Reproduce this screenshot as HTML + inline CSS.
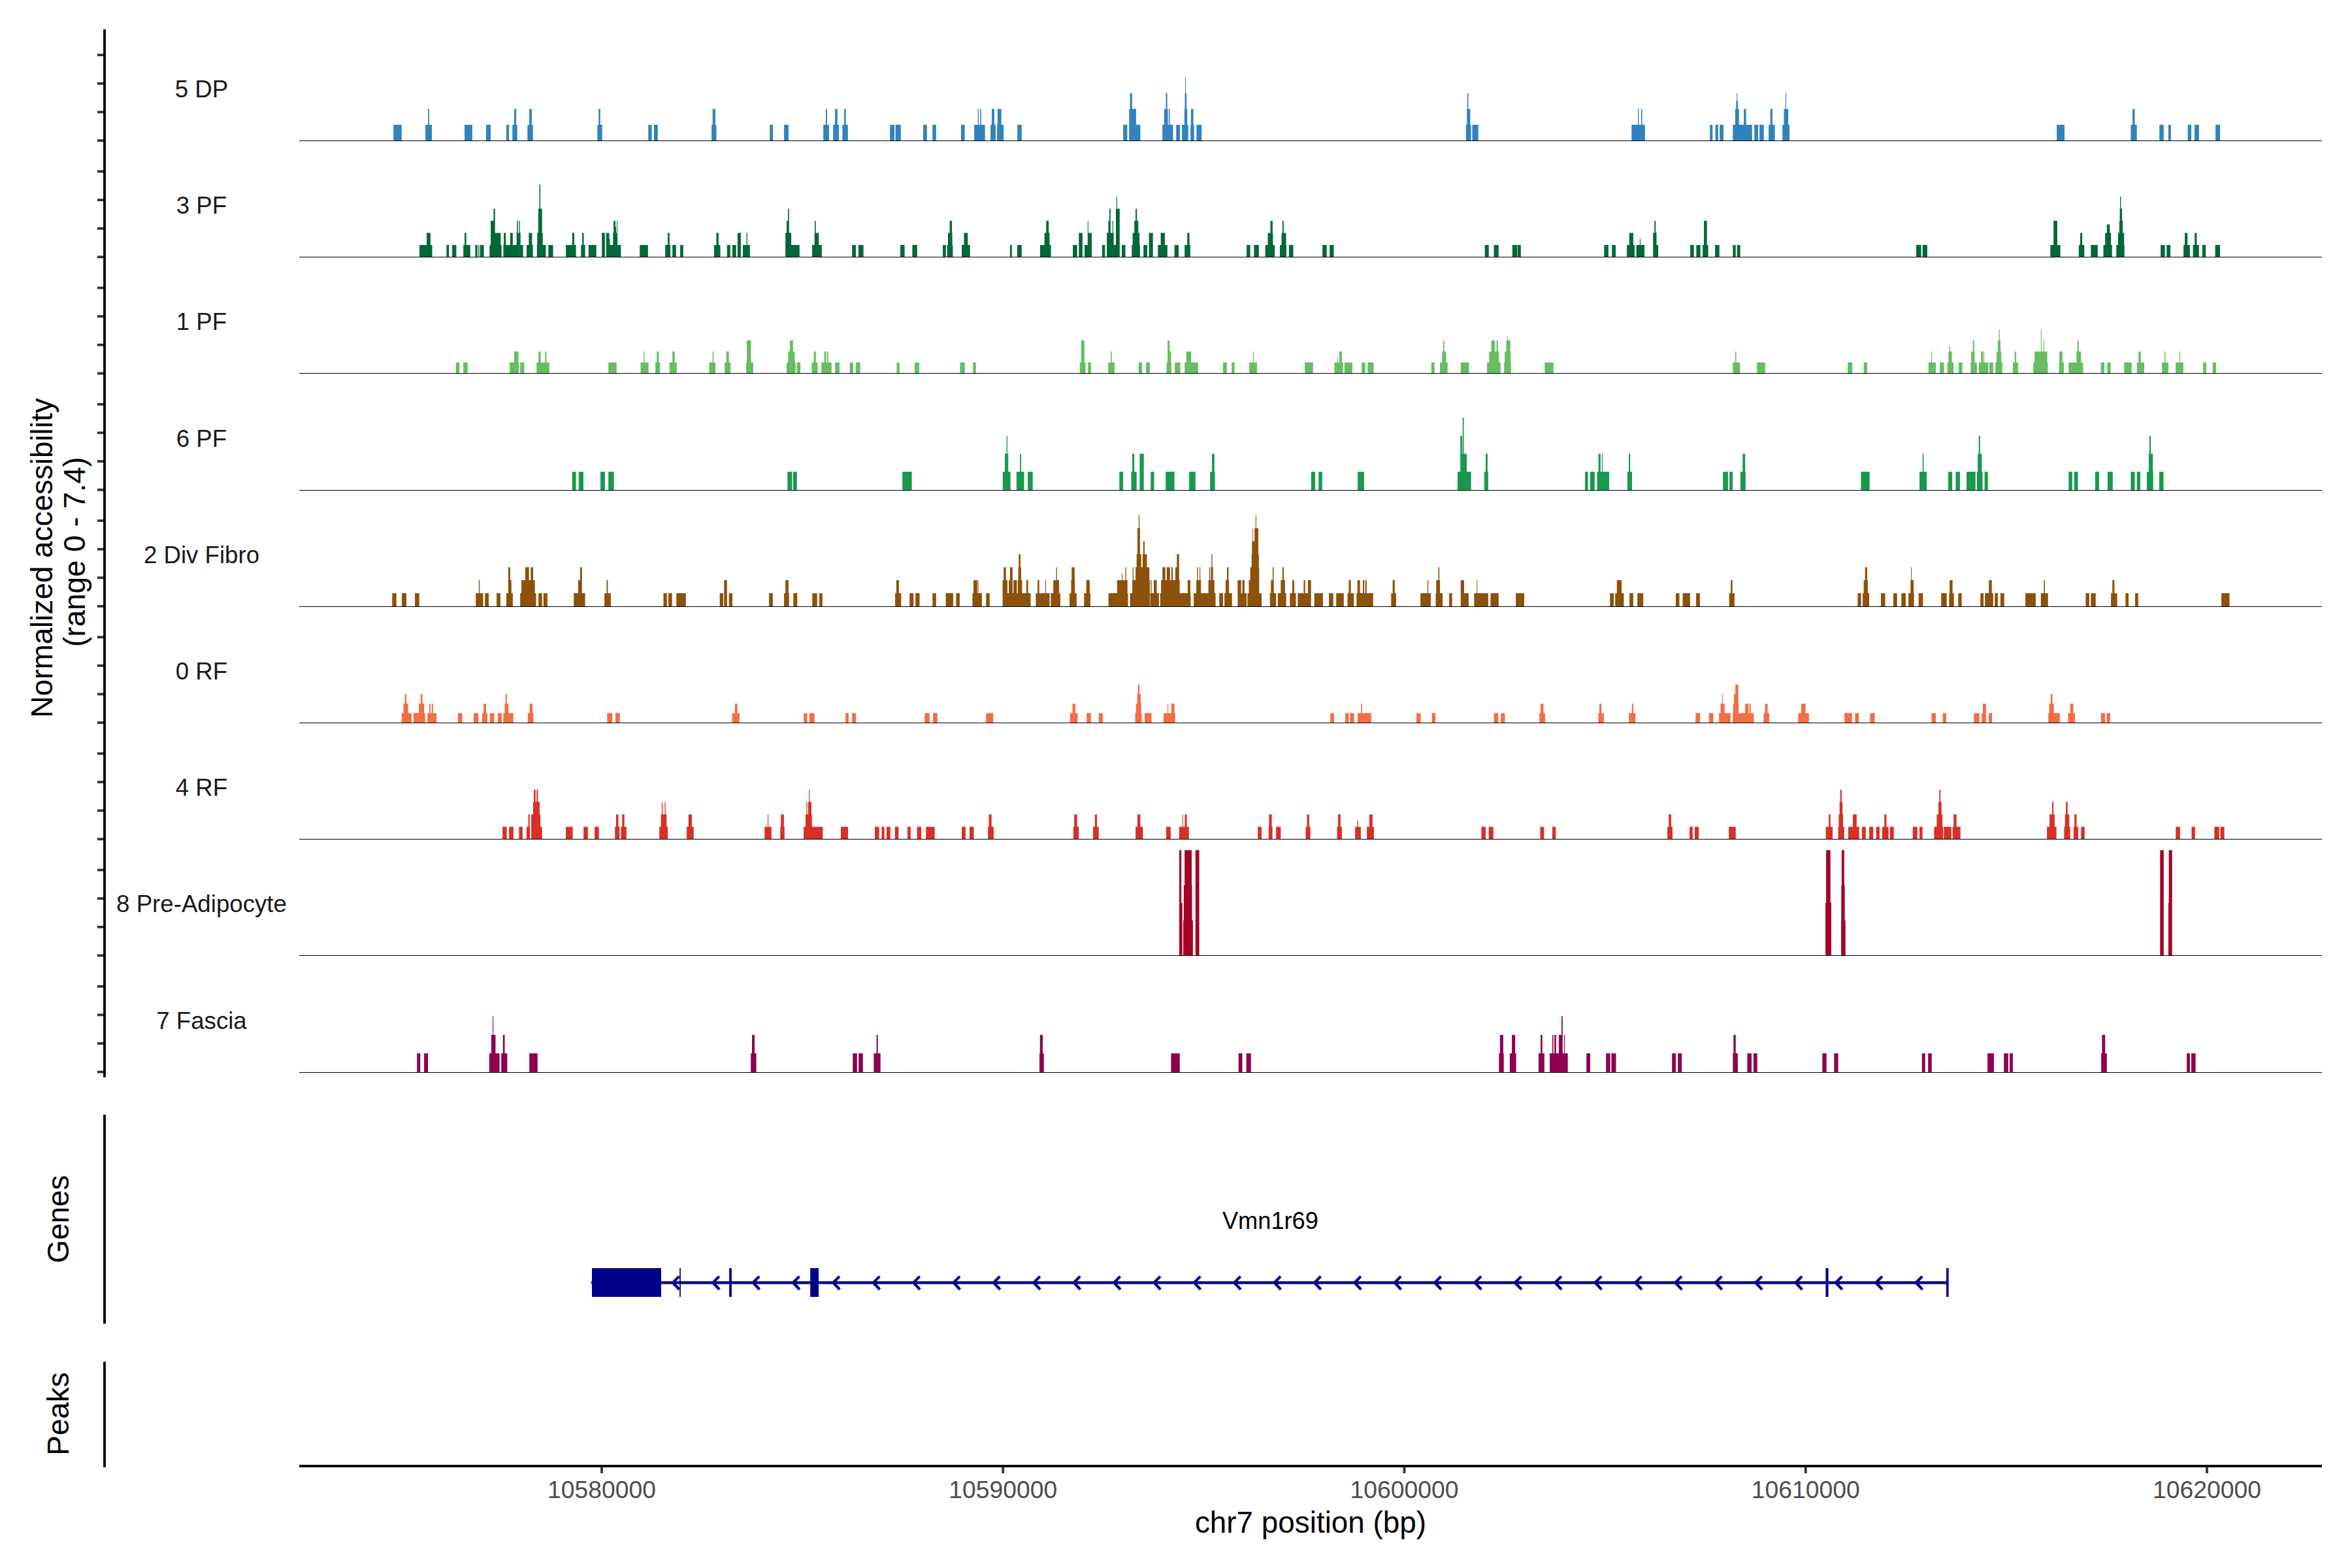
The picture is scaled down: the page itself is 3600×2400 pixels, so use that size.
<!DOCTYPE html><html><head><meta charset="utf-8"><style>html,body{margin:0;padding:0;background:#fff;}svg{display:block;}text{font-family:"Liberation Sans",Arial,sans-serif;}</style></head><body>
<svg width="3600" height="2400" viewBox="0 0 3600 2400">
<rect width="3600" height="2400" fill="#fff"/>
<path fill="#3182BD" d="M602.2 215.6V190.9H614.8V215.6ZM651.2 215.6V190.9H661.0V215.6ZM655.2 215.6V166.7H657.0V215.6ZM711.1 215.6V190.9H722.9V215.6ZM744.0 215.6V190.9H751.1V215.6ZM775.1 215.6V190.9H779.1V215.6ZM784.3 215.6V190.9H791.7V215.6ZM787.0 215.6V166.7H790.1V215.6ZM807.3 215.6V190.9H815.7V215.6ZM810.2 215.6V166.7H813.9V215.6ZM914.3 215.6V190.9H921.7V215.6ZM916.2 215.6V166.7H918.8V215.6ZM992.3 215.6V190.9H997.6V215.6ZM1001.0 215.6V190.9H1006.8V215.6ZM1089.1 215.6V190.9H1096.5V215.6ZM1090.7 215.6V166.7H1094.9V215.6ZM1178.2 215.6V190.9H1183.2V215.6ZM1200.1 215.6V190.9H1206.9V215.6ZM1260.2 215.6V190.9H1268.9V215.6ZM1264.1 215.6V166.7H1266.0V215.6ZM1275.2 215.6V190.9H1284.1V215.6ZM1278.1 215.6V166.7H1281.8V215.6ZM1289.4 215.6V190.9H1297.8V215.6ZM1292.1 215.6V166.7H1294.7V215.6ZM1362.2 215.6V190.9H1369.0V215.6ZM1370.6 215.6V190.9H1378.8V215.6ZM1413.0 215.6V190.9H1418.8V215.6ZM1427.3 215.6V190.9H1432.8V215.6ZM1471.0 215.6V190.9H1476.6V215.6ZM1491.1 215.6V190.9H1507.7V215.6ZM1496.6 215.6V166.7H1497.9V215.6ZM1500.3 215.6V166.7H1501.9V215.6ZM1516.1 215.6V190.9H1524.0V215.6ZM1518.0 215.6V166.7H1521.9V215.6ZM1526.1 215.6V190.9H1536.2V215.6ZM1526.9 215.6V166.7H1532.7V215.6ZM1557.2 215.6V190.9H1563.8V215.6ZM1719.1 215.6V190.9H1725.4V215.6ZM1728.3 215.6V190.9H1745.4V215.6ZM1728.3 215.6V166.7H1738.9V215.6ZM1729.6 215.6V142.5H1732.8V215.6ZM1779.2 215.6V190.9H1795.5V215.6ZM1781.8 215.6V166.7H1787.6V215.6ZM1784.5 215.6V142.5H1786.6V215.6ZM1788.9 215.6V166.7H1790.5V215.6ZM1800.3 215.6V190.9H1806.1V215.6ZM1809.2 215.6V190.9H1818.7V215.6ZM1812.9 215.6V166.7H1817.2V215.6ZM1813.5 215.6V142.5H1816.1V215.6ZM1814.0 215.6V118.3H1815.0V215.6ZM1822.2 215.6V190.9H1827.7V215.6ZM1823.0 215.6V166.7H1826.6V215.6ZM1831.4 215.6V190.9H1839.3V215.6ZM2243.9 215.6V190.9H2251.6V215.6ZM2245.3 215.6V166.7H2250.3V215.6ZM2245.8 215.6V142.5H2247.4V215.6ZM2253.4 215.6V190.9H2262.7V215.6ZM2497.3 215.6V190.9H2517.8V215.6ZM2507.0 215.6V166.7H2508.3V215.6ZM2512.0 215.6V166.7H2513.6V215.6ZM2617.2 215.6V190.9H2621.2V215.6ZM2625.6 215.6V190.9H2629.8V215.6ZM2632.2 215.6V190.9H2638.0V215.6ZM2652.3 215.6V190.9H2681.8V215.6ZM2655.9 215.6V166.7H2661.7V215.6ZM2657.3 215.6V154.6H2659.9V215.6ZM2658.1 215.6V142.5H2659.1V215.6ZM2669.1 215.6V166.7H2672.6V215.6ZM2685.2 215.6V190.9H2691.0V215.6ZM2693.1 215.6V190.9H2699.7V215.6ZM2707.1 215.6V190.9H2716.6V215.6ZM2709.7 215.6V166.7H2712.9V215.6ZM2728.2 215.6V190.9H2739.0V215.6ZM2730.5 215.6V166.7H2737.1V215.6ZM2732.9 215.6V142.5H2734.0V215.6ZM3148.1 215.6V190.9H3160.0V215.6ZM3261.4 215.6V190.9H3270.7V215.6ZM3264.1 215.6V166.7H3267.5V215.6ZM3305.2 215.6V190.9H3311.8V215.6ZM3318.9 215.6V190.9H3322.9V215.6ZM3348.7 215.6V190.9H3354.0V215.6ZM3359.0 215.6V190.9H3365.8V215.6ZM3391.1 215.6V190.9H3398.0V215.6Z"/>
<rect x="458.0" y="215" width="3096.0" height="1" fill="#000"/>
<text x="308.5" y="149.0" font-size="36.67" fill="#1a1a1a" text-anchor="middle">5 DP</text>
<rect x="149" y="213.23" width="10" height="3.8" fill="#333"/>
<rect x="149" y="169.59" width="10" height="3.8" fill="#333"/>
<rect x="149" y="125.95" width="10" height="3.8" fill="#333"/>
<rect x="149" y="82.31" width="10" height="3.8" fill="#333"/>
<path fill="#006837" d="M642.0 393.8V374.9H661.5V393.8ZM653.1 393.8V356.4H658.9V393.8ZM683.4 393.8V374.9H687.3V393.8ZM692.1 393.8V374.9H698.4V393.8ZM709.2 393.8V374.9H719.8V393.8ZM711.1 393.8V356.4H713.7V393.8ZM727.4 393.8V374.9H730.8V393.8ZM732.2 393.8V374.9H733.5V393.8ZM734.8 393.8V374.9H740.6V393.8ZM749.3 393.8V374.9H767.7V393.8ZM751.1 393.8V356.4H766.4V393.8ZM751.1 393.8V338.0H755.9V393.8ZM755.4 393.8V319.5H757.7V393.8ZM770.4 393.8V374.9H800.7V393.8ZM771.2 393.8V356.4H774.3V393.8ZM780.9 393.8V356.4H784.9V393.8ZM790.7 393.8V356.4H796.7V393.8ZM791.2 393.8V338.0H792.8V393.8ZM794.6 393.8V338.0H795.9V393.8ZM806.0 393.8V374.9H815.7V393.8ZM809.4 393.8V356.4H814.4V393.8ZM821.8 393.8V374.9H835.5V393.8ZM822.3 393.8V356.4H830.7V393.8ZM823.9 393.8V319.5H829.7V393.8ZM825.5 393.8V282.6H827.1V393.8ZM839.4 393.8V374.9H846.6V393.8ZM866.1 393.8V374.9H881.6V393.8ZM875.8 393.8V356.4H879.0V393.8ZM889.3 393.8V374.9H895.6V393.8ZM891.1 393.8V356.4H893.5V393.8ZM900.9 393.8V374.9H912.7V393.8ZM921.2 393.8V356.4H925.9V393.8ZM927.8 393.8V374.9H950.4V393.8ZM927.8 393.8V356.4H932.5V393.8ZM932.8 393.8V365.6H933.8V393.8ZM938.3 393.8V356.4H944.6V393.8ZM939.1 393.8V338.0H942.0V393.8ZM942.0 393.8V347.2H943.0V393.8ZM944.1 393.8V338.0H945.1V393.8ZM979.2 393.8V374.9H991.8V393.8ZM1018.2 393.8V374.9H1026.1V393.8ZM1022.1 393.8V356.4H1024.8V393.8ZM1029.2 393.8V374.9H1034.8V393.8ZM1041.1 393.8V374.9H1045.8V393.8ZM1093.0 393.8V374.9H1102.5V393.8ZM1096.5 393.8V356.4H1099.9V393.8ZM1112.8 393.8V374.9H1117.8V393.8ZM1121.0 393.8V374.9H1126.8V393.8ZM1128.9 393.8V356.4H1133.9V393.8ZM1137.0 393.8V374.9H1147.9V393.8ZM1142.6 393.8V356.4H1143.9V393.8ZM1202.2 393.8V374.9H1223.8V393.8ZM1202.2 393.8V356.4H1211.1V393.8ZM1204.0 393.8V338.0H1207.7V393.8ZM1206.1 393.8V319.5H1207.7V393.8ZM1243.0 393.8V374.9H1257.8V393.8ZM1246.7 393.8V356.4H1253.3V393.8ZM1247.0 393.8V338.0H1248.6V393.8ZM1304.2 393.8V374.9H1310.0V393.8ZM1313.9 393.8V374.9H1321.6V393.8ZM1378.0 393.8V374.9H1384.6V393.8ZM1396.4 393.8V374.9H1403.8V393.8ZM1443.1 393.8V374.9H1447.8V393.8ZM1449.7 393.8V374.9H1458.4V393.8ZM1451.0 393.8V356.4H1457.6V393.8ZM1453.6 393.8V338.0H1457.1V393.8ZM1472.1 393.8V374.9H1484.7V393.8ZM1475.5 393.8V356.4H1481.3V393.8ZM1545.9 393.8V374.9H1548.8V393.8ZM1557.0 393.8V374.9H1563.8V393.8ZM1592.0 393.8V374.9H1608.6V393.8ZM1598.6 393.8V356.4H1606.5V393.8ZM1601.3 393.8V338.0H1605.2V393.8ZM1642.1 393.8V374.9H1648.7V393.8ZM1651.3 393.8V356.4H1656.9V393.8ZM1660.0 393.8V374.9H1671.1V393.8ZM1665.3 393.8V356.4H1671.1V393.8ZM1664.8 393.8V338.0H1665.8V393.8ZM1686.9 393.8V374.9H1691.4V393.8ZM1694.1 393.8V356.4H1698.0V393.8ZM1696.4 393.8V338.0H1698.0V393.8ZM1698.0 393.8V374.9H1713.8V393.8ZM1698.0 393.8V356.4H1704.6V393.8ZM1698.0 393.8V319.5H1699.8V393.8ZM1702.7 393.8V338.0H1703.8V393.8ZM1708.0 393.8V319.5H1713.8V393.8ZM1708.8 393.8V301.1H1709.9V393.8ZM1717.0 393.8V374.9H1722.5V393.8ZM1732.3 393.8V374.9H1744.9V393.8ZM1733.6 393.8V356.4H1744.1V393.8ZM1736.2 393.8V338.0H1742.3V393.8ZM1738.1 393.8V319.5H1740.2V393.8ZM1750.2 393.8V374.9H1756.0V393.8ZM1758.6 393.8V356.4H1764.7V393.8ZM1772.3 393.8V374.9H1786.8V393.8ZM1776.6 393.8V356.4H1782.9V393.8ZM1797.6 393.8V374.9H1804.0V393.8ZM1813.2 393.8V374.9H1821.9V393.8ZM1817.2 393.8V356.4H1820.6V393.8ZM1908.1 393.8V374.9H1913.6V393.8ZM1919.4 393.8V374.9H1926.8V393.8ZM1936.6 393.8V374.9H1951.1V393.8ZM1940.5 393.8V356.4H1948.4V393.8ZM1944.5 393.8V338.0H1947.9V393.8ZM1959.0 393.8V374.9H1969.0V393.8ZM1961.6 393.8V356.4H1968.5V393.8ZM1962.9 393.8V338.0H1964.8V393.8ZM1972.9 393.8V374.9H1979.5V393.8ZM2024.1 393.8V374.9H2030.7V393.8ZM2035.2 393.8V374.9H2041.5V393.8ZM2272.7 393.8V374.9H2278.7V393.8ZM2286.6 393.8V374.9H2293.8V393.8ZM2314.8 393.8V374.9H2318.0V393.8ZM2318.0 393.8V374.9H2322.0V393.8ZM2322.7 393.8V374.9H2327.8V393.8ZM2455.3 393.8V374.9H2461.9V393.8ZM2467.2 393.8V374.9H2473.0V393.8ZM2490.1 393.8V374.9H2502.0V393.8ZM2493.8 393.8V356.4H2499.9V393.8ZM2504.6 393.8V374.9H2517.0V393.8ZM2509.9 393.8V365.6H2511.0V393.8ZM2530.2 393.8V374.9H2538.1V393.8ZM2530.2 393.8V356.4H2535.5V393.8ZM2532.3 393.8V338.0H2534.2V393.8ZM2587.1 393.8V374.9H2592.7V393.8ZM2596.4 393.8V374.9H2602.7V393.8ZM2606.1 393.8V374.9H2614.6V393.8ZM2608.0 393.8V338.0H2612.7V393.8ZM2625.1 393.8V374.9H2631.7V393.8ZM2652.3 393.8V374.9H2656.7V393.8ZM2658.8 393.8V374.9H2663.6V393.8ZM2933.0 393.8V374.9H2938.0V393.8ZM2938.0 393.8V374.9H2940.6V393.8ZM2942.7 393.8V374.9H2949.9V393.8ZM3138.3 393.8V374.9H3153.6V393.8ZM3143.1 393.8V338.0H3148.9V393.8ZM3181.8 393.8V374.9H3190.3V393.8ZM3183.9 393.8V356.4H3187.1V393.8ZM3200.3 393.8V374.9H3210.8V393.8ZM3219.5 393.8V374.9H3232.7V393.8ZM3222.2 393.8V356.4H3231.1V393.8ZM3224.8 393.8V343.5H3229.3V393.8ZM3239.3 393.8V374.9H3251.7V393.8ZM3241.9 393.8V356.4H3251.2V393.8ZM3243.8 393.8V338.0H3249.1V393.8ZM3244.6 393.8V319.5H3248.0V393.8ZM3245.1 393.8V301.1H3246.4V393.8ZM3307.1 393.8V374.9H3313.6V393.8ZM3316.3 393.8V374.9H3322.1V393.8ZM3342.1 393.8V374.9H3351.9V393.8ZM3344.0 393.8V356.4H3348.2V393.8ZM3356.6 393.8V374.9H3365.8V393.8ZM3359.2 393.8V356.4H3362.4V393.8ZM3370.8 393.8V374.9H3376.1V393.8ZM3390.6 393.8V374.9H3398.0V393.8Z"/>
<rect x="458.0" y="393" width="3096.0" height="1" fill="#000"/>
<text x="308.5" y="327.2" font-size="36.67" fill="#1a1a1a" text-anchor="middle">3 PF</text>
<rect x="149" y="391.43" width="10" height="3.8" fill="#333"/>
<rect x="149" y="347.79" width="10" height="3.8" fill="#333"/>
<rect x="149" y="304.15" width="10" height="3.8" fill="#333"/>
<rect x="149" y="260.51" width="10" height="3.8" fill="#333"/>
<path fill="#66BD63" d="M697.9 572.0V554.7H703.2V572.0ZM709.2 572.0V554.7H715.8V572.0ZM780.1 572.0V554.7H794.1V572.0ZM787.0 572.0V537.9H793.6V572.0ZM796.2 572.0V554.7H802.3V572.0ZM821.3 572.0V554.7H840.8V572.0ZM824.2 572.0V537.9H827.6V572.0ZM834.2 572.0V537.9H836.3V572.0ZM931.2 572.0V554.7H943.8V572.0ZM980.5 572.0V554.7H992.6V572.0ZM985.0 572.0V537.9H986.3V572.0ZM1003.1 572.0V554.7H1010.3V572.0ZM1005.3 572.0V537.9H1008.4V572.0ZM1024.8 572.0V554.7H1035.8V572.0ZM1029.2 572.0V537.9H1032.7V572.0ZM1085.4 572.0V554.7H1095.1V572.0ZM1090.7 572.0V537.9H1092.2V572.0ZM1109.1 572.0V554.7H1118.1V572.0ZM1111.7 572.0V537.9H1115.7V572.0ZM1142.1 572.0V554.7H1152.9V572.0ZM1143.1 572.0V521.1H1149.4V572.0ZM1204.0 572.0V554.7H1217.7V572.0ZM1206.4 572.0V537.9H1216.4V572.0ZM1209.0 572.0V521.1H1213.8V572.0ZM1219.8 572.0V554.7H1225.1V572.0ZM1242.5 572.0V554.7H1251.5V572.0ZM1245.7 572.0V537.9H1248.8V572.0ZM1257.3 572.0V554.7H1272.8V572.0ZM1261.7 572.0V537.9H1264.6V572.0ZM1266.0 572.0V537.9H1267.8V572.0ZM1278.3 572.0V554.7H1284.9V572.0ZM1300.7 572.0V554.7H1305.8V572.0ZM1310.0 572.0V554.7H1316.6V572.0ZM1372.5 572.0V554.7H1376.7V572.0ZM1400.1 572.0V554.7H1407.0V572.0ZM1469.5 572.0V554.7H1476.8V572.0ZM1489.2 572.0V554.7H1493.7V572.0ZM1652.7 572.0V554.7H1661.6V572.0ZM1654.8 572.0V521.1H1659.8V572.0ZM1665.3 572.0V554.7H1669.8V572.0ZM1696.2 572.0V554.7H1698.0V572.0ZM1698.0 572.0V554.7H1705.9V572.0ZM1700.1 572.0V537.9H1701.7V572.0ZM1742.8 572.0V554.7H1748.1V572.0ZM1754.1 572.0V554.7H1759.9V572.0ZM1785.5 572.0V554.7H1792.9V572.0ZM1787.1 572.0V521.1H1790.3V572.0ZM1790.3 572.0V537.9H1792.4V572.0ZM1798.2 572.0V554.7H1806.6V572.0ZM1813.2 572.0V554.7H1833.8V572.0ZM1815.8 572.0V537.9H1823.2V572.0ZM1872.0 572.0V554.7H1877.8V572.0ZM1885.2 572.0V554.7H1889.6V572.0ZM1912.1 572.0V554.7H1923.9V572.0ZM1917.8 572.0V537.9H1918.9V572.0ZM1997.2 572.0V554.7H2009.8V572.0ZM2042.5 572.0V554.7H2055.7V572.0ZM2049.9 572.0V537.9H2053.9V572.0ZM2046.8 572.0V546.3H2047.8V572.0ZM2057.8 572.0V554.7H2070.0V572.0ZM2084.2 572.0V554.7H2089.5V572.0ZM2093.4 572.0V554.7H2102.6V572.0ZM2190.9 572.0V554.7H2195.7V572.0ZM2204.1 572.0V554.7H2215.7V572.0ZM2207.3 572.0V537.9H2213.4V572.0ZM2208.9 572.0V521.1H2210.7V572.0ZM2235.8 572.0V554.7H2248.4V572.0ZM2276.1 572.0V554.7H2296.7V572.0ZM2279.3 572.0V537.9H2294.3V572.0ZM2282.7 572.0V521.1H2288.0V572.0ZM2290.6 572.0V521.1H2292.7V572.0ZM2302.2 572.0V554.7H2312.7V572.0ZM2303.2 572.0V537.9H2312.2V572.0ZM2305.6 572.0V521.1H2311.7V572.0ZM2306.9 572.0V516.1H2308.0V572.0ZM2364.4 572.0V554.7H2377.8V572.0ZM2652.3 572.0V554.7H2663.3V572.0ZM2655.9 572.0V537.9H2657.5V572.0ZM2689.2 572.0V554.7H2701.8V572.0ZM2828.1 572.0V554.7H2835.2V572.0ZM2852.6 572.0V554.7H2857.9V572.0ZM2951.7 572.0V554.7H2963.0V572.0ZM2955.9 572.0V537.9H2957.0V572.0ZM2969.1 572.0V554.7H2975.4V572.0ZM2980.7 572.0V554.7H2990.2V572.0ZM2982.3 572.0V537.9H2987.6V572.0ZM2983.6 572.0V529.5H2984.9V572.0ZM2998.1 572.0V554.7H3003.6V572.0ZM3016.3 572.0V554.7H3025.8V572.0ZM3017.1 572.0V537.9H3022.4V572.0ZM3019.7 572.0V521.1H3021.8V572.0ZM3028.9 572.0V554.7H3043.4V572.0ZM3032.1 572.0V537.9H3035.0V572.0ZM3035.8 572.0V537.9H3037.1V572.0ZM3045.0 572.0V554.7H3050.8V572.0ZM3054.3 572.0V554.7H3064.8V572.0ZM3056.1 572.0V537.9H3063.2V572.0ZM3057.9 572.0V521.1H3061.9V572.0ZM3059.5 572.0V504.3H3060.8V572.0ZM3080.9 572.0V554.7H3088.8V572.0ZM3083.8 572.0V537.9H3086.1V572.0ZM3112.2 572.0V554.7H3134.4V572.0ZM3114.1 572.0V537.9H3133.6V572.0ZM3123.8 572.0V504.3H3124.9V572.0ZM3127.8 572.0V521.1H3128.9V572.0ZM3151.5 572.0V554.7H3158.9V572.0ZM3152.1 572.0V537.9H3156.8V572.0ZM3166.3 572.0V554.7H3188.4V572.0ZM3178.4 572.0V537.9H3185.3V572.0ZM3179.7 572.0V521.1H3181.8V572.0ZM3215.6 572.0V554.7H3220.9V572.0ZM3225.3 572.0V554.7H3230.6V572.0ZM3251.2 572.0V554.7H3262.8V572.0ZM3270.7 572.0V554.7H3282.0V572.0ZM3273.3 572.0V537.9H3276.7V572.0ZM3309.2 572.0V554.7H3318.9V572.0ZM3312.9 572.0V537.9H3314.4V572.0ZM3330.0 572.0V554.7H3341.8V572.0ZM3336.0 572.0V537.9H3337.1V572.0ZM3372.2 572.0V554.7H3376.9V572.0ZM3386.7 572.0V554.7H3391.9V572.0Z"/>
<rect x="458.0" y="571" width="3096.0" height="1" fill="#000"/>
<text x="308.5" y="505.4" font-size="36.67" fill="#1a1a1a" text-anchor="middle">1 PF</text>
<rect x="149" y="569.63" width="10" height="3.8" fill="#333"/>
<rect x="149" y="525.99" width="10" height="3.8" fill="#333"/>
<rect x="149" y="482.35" width="10" height="3.8" fill="#333"/>
<rect x="149" y="438.71" width="10" height="3.8" fill="#333"/>
<path fill="#1A9850" d="M875.8 750.2V722.1H881.6V750.2ZM885.8 750.2V722.1H893.0V750.2ZM919.1 750.2V722.1H925.9V750.2ZM931.2 750.2V722.1H939.6V750.2ZM1205.3 750.2V722.1H1212.4V750.2ZM1214.0 750.2V722.1H1219.8V750.2ZM1381.2 750.2V722.1H1395.6V750.2ZM1534.8 750.2V722.1H1546.7V750.2ZM1538.0 750.2V694.5H1543.3V750.2ZM1540.6 750.2V666.9H1542.0V750.2ZM1555.9 750.2V722.1H1567.5V750.2ZM1561.2 750.2V694.5H1563.0V750.2ZM1573.1 750.2V722.1H1580.7V750.2ZM1713.3 750.2V722.1H1719.1V750.2ZM1731.5 750.2V722.1H1739.7V750.2ZM1733.1 750.2V694.5H1736.2V750.2ZM1744.4 750.2V694.5H1750.7V750.2ZM1761.3 750.2V722.1H1766.5V750.2ZM1784.2 750.2V722.1H1797.6V750.2ZM1820.1 750.2V722.1H1829.8V750.2ZM1852.2 750.2V722.1H1859.6V750.2ZM1855.1 750.2V694.5H1858.8V750.2ZM2006.9 750.2V722.1H2013.0V750.2ZM2018.3 750.2V722.1H2023.8V750.2ZM2078.1 750.2V722.1H2087.9V750.2ZM2231.0 750.2V722.1H2251.6V750.2ZM2235.2 750.2V694.5H2245.0V750.2ZM2235.2 750.2V666.9H2237.9V750.2ZM2238.7 750.2V639.3H2240.5V750.2ZM2271.9 750.2V722.1H2277.9V750.2ZM2274.0 750.2V694.5H2276.9V750.2ZM2426.1 750.2V722.1H2430.6V750.2ZM2434.0 750.2V722.1H2440.8V750.2ZM2444.5 750.2V722.1H2463.0V750.2ZM2446.6 750.2V694.5H2449.8V750.2ZM2451.9 750.2V694.5H2453.0V750.2ZM2490.9 750.2V722.1H2498.0V750.2ZM2493.0 750.2V694.5H2495.1V750.2ZM2637.2 750.2V722.1H2644.9V750.2ZM2647.2 750.2V722.1H2652.0V750.2ZM2663.9 750.2V722.1H2671.8V750.2ZM2667.3 750.2V694.5H2671.2V750.2ZM2848.4 750.2V722.1H2861.6V750.2ZM2938.0 750.2V722.1H2949.1V750.2ZM2942.7 750.2V694.5H2944.3V750.2ZM2982.0 750.2V722.1H2988.1V750.2ZM2993.4 750.2V722.1H2999.9V750.2ZM3010.0 750.2V722.1H3023.7V750.2ZM3025.8 750.2V722.1H3034.5V750.2ZM3027.1 750.2V694.5H3033.4V750.2ZM3028.7 750.2V666.9H3030.8V750.2ZM3037.6 750.2V722.1H3042.7V750.2ZM3166.3 750.2V722.1H3171.8V750.2ZM3174.7 750.2V722.1H3180.5V750.2ZM3206.9 750.2V722.1H3212.9V750.2ZM3225.9 750.2V722.1H3233.8V750.2ZM3261.4 750.2V722.1H3267.5V750.2ZM3270.7 750.2V722.1H3275.9V750.2ZM3286.0 750.2V722.1H3295.7V750.2ZM3288.9 750.2V694.5H3295.2V750.2ZM3289.9 750.2V666.9H3292.0V750.2ZM3304.9 750.2V722.1H3311.5V750.2Z"/>
<rect x="458.0" y="750" width="3096.0" height="1" fill="#000"/>
<text x="308.5" y="683.6" font-size="36.67" fill="#1a1a1a" text-anchor="middle">6 PF</text>
<rect x="149" y="747.83" width="10" height="3.8" fill="#333"/>
<rect x="149" y="704.19" width="10" height="3.8" fill="#333"/>
<rect x="149" y="660.55" width="10" height="3.8" fill="#333"/>
<rect x="149" y="616.91" width="10" height="3.8" fill="#333"/>
<path fill="#8C510A" d="M600.3 928.4V908.0H606.7V928.4ZM615.1 928.4V908.0H622.0V928.4ZM635.1 928.4V908.0H641.7V928.4ZM728.2 928.4V908.0H739.5V928.4ZM732.9 928.4V888.1H734.3V928.4ZM742.2 928.4V908.0H748.0V928.4ZM760.1 928.4V908.0H765.9V928.4ZM774.9 928.4V908.0H784.9V928.4ZM778.0 928.4V888.1H782.8V928.4ZM778.0 928.4V868.2H780.9V928.4ZM796.2 928.4V908.0H820.5V928.4ZM798.1 928.4V888.1H818.6V928.4ZM803.9 928.4V868.2H809.7V928.4ZM812.3 928.4V868.2H816.0V928.4ZM824.2 928.4V908.0H829.7V928.4ZM831.8 928.4V908.0H837.9V928.4ZM878.2 928.4V908.0H895.6V928.4ZM885.0 928.4V888.1H890.8V928.4ZM887.9 928.4V868.2H890.8V928.4ZM925.1 928.4V908.0H934.9V928.4ZM928.5 928.4V888.1H930.4V928.4ZM1015.5 928.4V908.0H1020.8V928.4ZM1022.9 928.4V908.0H1028.7V928.4ZM1035.3 928.4V908.0H1049.8V928.4ZM1101.7 928.4V908.0H1107.0V928.4ZM1108.3 928.4V888.1H1112.8V928.4ZM1115.7 928.4V908.0H1121.0V928.4ZM1177.1 928.4V908.0H1182.9V928.4ZM1200.1 928.4V908.0H1207.7V928.4ZM1202.2 928.4V888.1H1206.9V928.4ZM1214.3 928.4V908.0H1220.3V928.4ZM1243.3 928.4V908.0H1250.7V928.4ZM1254.1 928.4V908.0H1258.8V928.4ZM1370.1 928.4V908.0H1379.3V928.4ZM1371.9 928.4V888.1H1375.9V928.4ZM1392.2 928.4V908.0H1398.3V928.4ZM1401.2 928.4V908.0H1407.5V928.4ZM1427.3 928.4V908.0H1432.8V928.4ZM1447.6 928.4V908.0H1458.9V928.4ZM1463.4 928.4V908.0H1468.9V928.4ZM1488.4 928.4V908.0H1502.9V928.4ZM1490.0 928.4V888.1H1495.8V928.4ZM1496.6 928.4V888.1H1497.7V928.4ZM1509.3 928.4V908.0H1514.8V928.4ZM1534.6 928.4V908.0H1577.5V928.4ZM1534.6 928.4V888.1H1542.0V928.4ZM1544.1 928.4V888.1H1549.9V928.4ZM1551.2 928.4V888.1H1556.4V928.4ZM1557.8 928.4V888.1H1564.4V928.4ZM1570.9 928.4V888.1H1573.6V928.4ZM1536.2 928.4V868.2H1539.8V928.4ZM1545.9 928.4V868.2H1549.9V928.4ZM1558.6 928.4V868.2H1563.0V928.4ZM1559.3 928.4V848.3H1562.0V928.4ZM1585.4 928.4V908.0H1606.5V928.4ZM1588.1 928.4V888.1H1590.7V928.4ZM1599.9 928.4V888.1H1601.0V928.4ZM1608.4 928.4V908.0H1622.9V928.4ZM1612.3 928.4V888.1H1621.0V928.4ZM1616.6 928.4V868.2H1617.9V928.4ZM1637.1 928.4V908.0H1647.9V928.4ZM1639.5 928.4V888.1H1645.3V928.4ZM1640.3 928.4V868.2H1644.8V928.4ZM1659.3 928.4V908.0H1669.0V928.4ZM1662.7 928.4V888.1H1668.0V928.4ZM1696.7 928.4V908.0H1698.0V928.4ZM1698.0 928.4V908.0H1726.5V928.4ZM1709.9 928.4V888.1H1725.7V928.4ZM1717.0 928.4V878.1H1718.0V928.4ZM1722.5 928.4V868.2H1723.8V928.4ZM1729.6 928.4V908.0H1759.9V928.4ZM1733.1 928.4V888.1H1759.9V928.4ZM1733.6 928.4V868.2H1734.9V928.4ZM1738.1 928.4V868.2H1759.2V928.4ZM1739.7 928.4V848.3H1746.8V928.4ZM1748.9 928.4V848.3H1755.5V928.4ZM1749.9 928.4V828.4H1752.0V928.4ZM1741.0 928.4V808.5H1744.9V928.4ZM1742.8 928.4V788.6H1744.1V928.4ZM1760.5 928.4V908.0H1773.9V928.4ZM1761.3 928.4V888.1H1762.6V928.4ZM1766.0 928.4V888.1H1770.5V928.4ZM1775.8 928.4V908.0H1822.4V928.4ZM1777.1 928.4V888.1H1805.6V928.4ZM1817.9 928.4V888.1H1821.9V928.4ZM1779.2 928.4V868.2H1783.7V928.4ZM1785.8 928.4V868.2H1790.8V928.4ZM1792.9 928.4V868.2H1795.0V928.4ZM1799.0 928.4V868.2H1804.8V928.4ZM1801.3 928.4V848.3H1804.8V928.4ZM1827.2 928.4V908.0H1860.6V928.4ZM1831.1 928.4V888.1H1838.2V928.4ZM1849.6 928.4V888.1H1858.8V928.4ZM1832.4 928.4V868.2H1833.8V928.4ZM1836.1 928.4V868.2H1837.2V928.4ZM1850.9 928.4V868.2H1852.2V928.4ZM1853.5 928.4V868.2H1856.7V928.4ZM1854.3 928.4V848.3H1855.6V928.4ZM1866.2 928.4V908.0H1872.0V928.4ZM1874.1 928.4V908.0H1885.7V928.4ZM1875.9 928.4V888.1H1881.2V928.4ZM1878.0 928.4V868.2H1880.4V928.4ZM1894.4 928.4V908.0H1908.1V928.4ZM1894.4 928.4V888.1H1899.7V928.4ZM1901.5 928.4V888.1H1904.9V928.4ZM1909.4 928.4V908.0H1931.0V928.4ZM1911.5 928.4V888.1H1927.3V928.4ZM1913.6 928.4V868.2H1927.3V928.4ZM1915.7 928.4V848.3H1926.8V928.4ZM1916.3 928.4V828.4H1926.0V928.4ZM1920.2 928.4V808.5H1926.0V928.4ZM1917.3 928.4V808.5H1918.1V928.4ZM1921.8 928.4V788.6H1922.9V928.4ZM1943.7 928.4V908.0H1953.2V928.4ZM1945.3 928.4V888.1H1949.7V928.4ZM1947.9 928.4V868.2H1949.5V928.4ZM1955.8 928.4V908.0H1968.7V928.4ZM1960.3 928.4V888.1H1966.9V928.4ZM1962.9 928.4V868.2H1965.0V928.4ZM1974.3 928.4V908.0H1983.5V928.4ZM1978.0 928.4V888.1H1980.9V928.4ZM1986.4 928.4V908.0H2006.7V928.4ZM1995.4 928.4V888.1H1997.7V928.4ZM2001.9 928.4V888.1H2006.7V928.4ZM2011.7 928.4V908.0H2024.9V928.4ZM2034.1 928.4V908.0H2040.7V928.4ZM2045.2 928.4V908.0H2056.8V928.4ZM2062.6 928.4V908.0H2072.3V928.4ZM2064.4 928.4V888.1H2067.6V928.4ZM2076.3 928.4V908.0H2101.8V928.4ZM2077.6 928.4V888.1H2081.6V928.4ZM2086.0 928.4V888.1H2088.1V928.4ZM2089.7 928.4V888.1H2091.8V928.4ZM2129.3 928.4V908.0H2136.9V928.4ZM2131.6 928.4V888.1H2134.8V928.4ZM2174.1 928.4V908.0H2189.9V928.4ZM2184.9 928.4V888.1H2186.2V928.4ZM2197.5 928.4V908.0H2208.1V928.4ZM2198.3 928.4V888.1H2204.1V928.4ZM2201.5 928.4V868.2H2203.1V928.4ZM2218.1 928.4V908.0H2222.6V928.4ZM2235.8 928.4V908.0H2247.9V928.4ZM2235.8 928.4V888.1H2241.0V928.4ZM2256.3 928.4V908.0H2277.9V928.4ZM2260.3 928.4V888.1H2261.3V928.4ZM2281.4 928.4V908.0H2293.8V928.4ZM2320.1 928.4V908.0H2333.0V928.4ZM2464.3 928.4V908.0H2470.1V928.4ZM2472.2 928.4V908.0H2485.4V928.4ZM2474.8 928.4V888.1H2482.0V928.4ZM2494.1 928.4V908.0H2499.9V928.4ZM2506.2 928.4V908.0H2515.2V928.4ZM2565.0 928.4V908.0H2570.5V928.4ZM2575.5 928.4V908.0H2586.9V928.4ZM2596.1 928.4V908.0H2601.9V928.4ZM2646.7 928.4V908.0H2654.9V928.4ZM2649.1 928.4V888.1H2651.7V928.4ZM2843.4 928.4V908.0H2848.6V928.4ZM2851.0 928.4V908.0H2861.0V928.4ZM2852.6 928.4V888.1H2858.9V928.4ZM2854.7 928.4V868.2H2857.9V928.4ZM2879.0 928.4V908.0H2885.5V928.4ZM2897.9 928.4V908.0H2903.7V928.4ZM2910.3 928.4V908.0H2916.9V928.4ZM2921.1 928.4V908.0H2929.6V928.4ZM2924.3 928.4V888.1H2929.0V928.4ZM2925.1 928.4V868.2H2926.1V928.4ZM2936.7 928.4V908.0H2938.0V928.4ZM2938.0 928.4V908.0H2943.3V928.4ZM2971.2 928.4V908.0H2979.7V928.4ZM2983.3 928.4V908.0H2990.7V928.4ZM2984.1 928.4V888.1H2988.6V928.4ZM2997.3 928.4V908.0H3002.6V928.4ZM3031.3 928.4V908.0H3036.1V928.4ZM3038.2 928.4V908.0H3050.8V928.4ZM3044.2 928.4V888.1H3048.7V928.4ZM3053.2 928.4V908.0H3057.9V928.4ZM3061.9 928.4V908.0H3067.7V928.4ZM3100.1 928.4V908.0H3115.9V928.4ZM3123.8 928.4V908.0H3134.7V928.4ZM3128.3 928.4V888.1H3129.9V928.4ZM3192.4 928.4V908.0H3197.9V928.4ZM3200.3 928.4V908.0H3207.7V928.4ZM3231.1 928.4V908.0H3240.6V928.4ZM3233.2 928.4V888.1H3236.4V928.4ZM3253.3 928.4V908.0H3258.0V928.4ZM3268.0 928.4V908.0H3272.8V928.4ZM3400.1 928.4V908.0H3412.5V928.4Z"/>
<rect x="458.0" y="928" width="3096.0" height="1" fill="#000"/>
<text x="308.5" y="861.8" font-size="36.67" fill="#1a1a1a" text-anchor="middle">2 Div Fibro</text>
<rect x="149" y="926.03" width="10" height="3.8" fill="#333"/>
<rect x="149" y="882.39" width="10" height="3.8" fill="#333"/>
<rect x="149" y="838.75" width="10" height="3.8" fill="#333"/>
<rect x="149" y="795.11" width="10" height="3.8" fill="#333"/>
<path fill="#F46D43" d="M614.8 1106.6V1091.5H629.9V1106.6ZM617.5 1106.6V1076.9H624.6V1106.6ZM619.6 1106.6V1062.3H622.0V1106.6ZM633.0 1106.6V1091.5H650.7V1106.6ZM641.2 1106.6V1076.9H649.1V1106.6ZM643.8 1106.6V1062.3H646.5V1106.6ZM654.4 1106.6V1091.5H668.1V1106.6ZM657.0 1106.6V1076.9H658.9V1106.6ZM660.7 1106.6V1076.9H662.8V1106.6ZM701.0 1106.6V1091.5H707.6V1106.6ZM725.0 1106.6V1091.5H732.2V1106.6ZM738.0 1106.6V1091.5H745.9V1106.6ZM740.1 1106.6V1076.9H744.0V1106.6ZM749.8 1106.6V1091.5H756.4V1106.6ZM761.9 1106.6V1091.5H768.0V1106.6ZM770.4 1106.6V1091.5H785.7V1106.6ZM772.5 1106.6V1076.9H778.3V1106.6ZM773.8 1106.6V1062.3H775.9V1106.6ZM807.8 1106.6V1091.5H816.5V1106.6ZM810.7 1106.6V1076.9H815.2V1106.6ZM929.3 1106.6V1091.5H937.2V1106.6ZM942.0 1106.6V1091.5H948.8V1106.6ZM1120.7 1106.6V1091.5H1132.0V1106.6ZM1124.9 1106.6V1076.9H1128.6V1106.6ZM1230.4 1106.6V1091.5H1235.6V1106.6ZM1238.8 1106.6V1091.5H1246.7V1106.6ZM1294.2 1106.6V1091.5H1298.9V1106.6ZM1304.2 1106.6V1091.5H1310.0V1106.6ZM1415.4 1106.6V1091.5H1422.8V1106.6ZM1428.1 1106.6V1091.5H1434.9V1106.6ZM1509.3 1106.6V1091.5H1520.3V1106.6ZM1637.9 1106.6V1091.5H1649.5V1106.6ZM1641.6 1106.6V1076.9H1646.1V1106.6ZM1663.2 1106.6V1091.5H1669.8V1106.6ZM1681.9 1106.6V1091.5H1688.0V1106.6ZM1737.5 1106.6V1091.5H1747.6V1106.6ZM1738.9 1106.6V1076.9H1746.8V1106.6ZM1740.7 1106.6V1062.3H1746.0V1106.6ZM1741.8 1106.6V1047.7H1744.1V1106.6ZM1752.0 1106.6V1091.5H1762.6V1106.6ZM1781.0 1106.6V1091.5H1798.7V1106.6ZM1787.1 1106.6V1076.9H1788.2V1106.6ZM1792.9 1106.6V1076.9H1797.6V1106.6ZM2036.2 1106.6V1091.5H2042.0V1106.6ZM2059.1 1106.6V1091.5H2064.4V1106.6ZM2066.3 1106.6V1091.5H2072.6V1106.6ZM2078.1 1106.6V1091.5H2098.7V1106.6ZM2083.4 1106.6V1076.9H2085.0V1106.6ZM2168.0 1106.6V1091.5H2174.6V1106.6ZM2191.7 1106.6V1091.5H2197.0V1106.6ZM2286.6 1106.6V1091.5H2293.2V1106.6ZM2297.2 1106.6V1091.5H2303.5V1106.6ZM2356.2 1106.6V1091.5H2364.9V1106.6ZM2358.1 1106.6V1076.9H2362.3V1106.6ZM2446.4 1106.6V1091.5H2454.8V1106.6ZM2448.0 1106.6V1076.9H2451.1V1106.6ZM2493.3 1106.6V1091.5H2503.3V1106.6ZM2497.8 1106.6V1076.9H2499.9V1106.6ZM2595.3 1106.6V1091.5H2602.2V1106.6ZM2615.9 1106.6V1091.5H2622.5V1106.6ZM2631.2 1106.6V1091.5H2648.8V1106.6ZM2633.5 1106.6V1076.9H2639.6V1106.6ZM2635.9 1106.6V1062.3H2637.0V1106.6ZM2652.3 1106.6V1091.5H2684.4V1106.6ZM2652.8 1106.6V1076.9H2661.2V1106.6ZM2671.2 1106.6V1076.9H2676.5V1106.6ZM2677.8 1106.6V1076.9H2679.7V1106.6ZM2654.1 1106.6V1062.3H2660.7V1106.6ZM2656.2 1106.6V1047.7H2660.7V1106.6ZM2699.4 1106.6V1091.5H2708.1V1106.6ZM2701.6 1106.6V1076.9H2705.5V1106.6ZM2752.4 1106.6V1091.5H2768.8V1106.6ZM2756.9 1106.6V1076.9H2763.5V1106.6ZM2823.1 1106.6V1091.5H2834.7V1106.6ZM2839.4 1106.6V1091.5H2845.0V1106.6ZM2862.4 1106.6V1091.5H2869.5V1106.6ZM2956.5 1106.6V1091.5H2963.0V1106.6ZM2973.6 1106.6V1091.5H2978.9V1106.6ZM3021.3 1106.6V1091.5H3029.7V1106.6ZM3033.2 1106.6V1091.5H3039.8V1106.6ZM3035.0 1106.6V1076.9H3039.8V1106.6ZM3044.0 1106.6V1091.5H3049.0V1106.6ZM3135.2 1106.6V1091.5H3152.8V1106.6ZM3136.5 1106.6V1076.9H3143.6V1106.6ZM3138.9 1106.6V1062.3H3141.5V1106.6ZM3165.5 1106.6V1091.5H3176.0V1106.6ZM3168.7 1106.6V1076.9H3173.4V1106.6ZM3215.8 1106.6V1091.5H3222.2V1106.6ZM3224.5 1106.6V1091.5H3229.8V1106.6Z"/>
<rect x="458.0" y="1106" width="3096.0" height="1" fill="#000"/>
<text x="308.5" y="1040.0" font-size="36.67" fill="#1a1a1a" text-anchor="middle">0 RF</text>
<rect x="149" y="1104.23" width="10" height="3.8" fill="#333"/>
<rect x="149" y="1060.59" width="10" height="3.8" fill="#333"/>
<rect x="149" y="1016.95" width="10" height="3.8" fill="#333"/>
<rect x="149" y="973.31" width="10" height="3.8" fill="#333"/>
<path fill="#D73027" d="M769.1 1284.8V1265.4H775.6V1284.8ZM779.1 1284.8V1265.4H785.9V1284.8ZM794.4 1284.8V1265.4H799.9V1284.8ZM806.0 1284.8V1265.4H811.2V1284.8ZM808.6 1284.8V1246.5H810.7V1284.8ZM813.1 1284.8V1265.4H829.7V1284.8ZM813.1 1284.8V1246.5H827.1V1284.8ZM816.0 1284.8V1227.6H826.0V1284.8ZM817.0 1284.8V1208.7H819.7V1284.8ZM821.3 1284.8V1208.7H823.4V1284.8ZM866.1 1284.8V1265.4H876.6V1284.8ZM893.2 1284.8V1265.4H899.8V1284.8ZM910.1 1284.8V1265.4H916.7V1284.8ZM941.2 1284.8V1265.4H948.3V1284.8ZM943.0 1284.8V1246.5H946.5V1284.8ZM950.4 1284.8V1265.4H958.9V1284.8ZM952.3 1284.8V1246.5H955.7V1284.8ZM1009.2 1284.8V1265.4H1022.1V1284.8ZM1011.6 1284.8V1246.5H1020.3V1284.8ZM1012.9 1284.8V1227.6H1014.2V1284.8ZM1017.4 1284.8V1227.6H1018.7V1284.8ZM1051.1 1284.8V1265.4H1061.7V1284.8ZM1053.8 1284.8V1246.5H1059.0V1284.8ZM1170.3 1284.8V1265.4H1180.8V1284.8ZM1175.0 1284.8V1246.5H1176.1V1284.8ZM1194.3 1284.8V1265.4H1200.8V1284.8ZM1195.3 1284.8V1246.5H1199.8V1284.8ZM1230.1 1284.8V1265.4H1259.4V1284.8ZM1233.0 1284.8V1246.5H1242.8V1284.8ZM1234.3 1284.8V1227.6H1235.6V1284.8ZM1237.0 1284.8V1227.6H1242.0V1284.8ZM1238.0 1284.8V1208.7H1239.1V1284.8ZM1287.0 1284.8V1265.4H1298.1V1284.8ZM1339.0 1284.8V1265.4H1345.6V1284.8ZM1349.5 1284.8V1265.4H1353.7V1284.8ZM1356.9 1284.8V1265.4H1362.7V1284.8ZM1369.8 1284.8V1265.4H1375.4V1284.8ZM1389.1 1284.8V1265.4H1393.8V1284.8ZM1403.6 1284.8V1265.4H1410.1V1284.8ZM1417.3 1284.8V1265.4H1430.7V1284.8ZM1472.1 1284.8V1265.4H1477.9V1284.8ZM1484.0 1284.8V1265.4H1490.5V1284.8ZM1512.2 1284.8V1265.4H1520.9V1284.8ZM1513.5 1284.8V1246.5H1517.7V1284.8ZM1642.9 1284.8V1265.4H1651.3V1284.8ZM1644.2 1284.8V1246.5H1648.7V1284.8ZM1673.0 1284.8V1265.4H1681.7V1284.8ZM1675.9 1284.8V1246.5H1679.0V1284.8ZM1738.1 1284.8V1265.4H1749.4V1284.8ZM1741.0 1284.8V1246.5H1745.4V1284.8ZM1785.0 1284.8V1265.4H1791.8V1284.8ZM1804.8 1284.8V1265.4H1819.8V1284.8ZM1809.8 1284.8V1246.5H1810.8V1284.8ZM1813.5 1284.8V1246.5H1816.6V1284.8ZM1925.2 1284.8V1265.4H1931.0V1284.8ZM1941.8 1284.8V1265.4H1947.6V1284.8ZM1942.4 1284.8V1246.5H1946.6V1284.8ZM1953.2 1284.8V1265.4H1960.3V1284.8ZM1998.5 1284.8V1265.4H2005.6V1284.8ZM2000.6 1284.8V1246.5H2003.8V1284.8ZM2046.5 1284.8V1265.4H2053.9V1284.8ZM2048.1 1284.8V1246.5H2051.8V1284.8ZM2074.2 1284.8V1265.4H2082.9V1284.8ZM2077.6 1284.8V1256.0H2078.9V1284.8ZM2092.1 1284.8V1265.4H2102.9V1284.8ZM2096.0 1284.8V1246.5H2100.8V1284.8ZM2267.4 1284.8V1265.4H2274.0V1284.8ZM2278.7 1284.8V1265.4H2285.8V1284.8ZM2357.5 1284.8V1265.4H2363.3V1284.8ZM2376.0 1284.8V1265.4H2381.3V1284.8ZM2552.1 1284.8V1265.4H2560.0V1284.8ZM2554.2 1284.8V1246.5H2557.9V1284.8ZM2586.1 1284.8V1265.4H2590.8V1284.8ZM2594.0 1284.8V1265.4H2600.1V1284.8ZM2646.2 1284.8V1265.4H2656.7V1284.8ZM2794.6 1284.8V1265.4H2805.1V1284.8ZM2799.1 1284.8V1246.5H2801.7V1284.8ZM2813.6 1284.8V1265.4H2822.8V1284.8ZM2814.4 1284.8V1246.5H2821.0V1284.8ZM2815.7 1284.8V1227.6H2820.2V1284.8ZM2816.7 1284.8V1208.7H2818.9V1284.8ZM2828.9 1284.8V1265.4H2845.7V1284.8ZM2836.0 1284.8V1246.5H2841.8V1284.8ZM2850.0 1284.8V1265.4H2855.8V1284.8ZM2861.0 1284.8V1265.4H2867.1V1284.8ZM2871.6 1284.8V1265.4H2876.9V1284.8ZM2880.8 1284.8V1265.4H2890.6V1284.8ZM2884.2 1284.8V1246.5H2887.4V1284.8ZM2892.7 1284.8V1265.4H2898.7V1284.8ZM2927.7 1284.8V1265.4H2934.8V1284.8ZM2938.0 1284.8V1265.4H2942.7V1284.8ZM2960.4 1284.8V1265.4H2974.1V1284.8ZM2964.4 1284.8V1246.5H2973.1V1284.8ZM2967.0 1284.8V1227.6H2971.7V1284.8ZM2968.3 1284.8V1208.7H2970.2V1284.8ZM2975.2 1284.8V1265.4H2986.8V1284.8ZM2988.6 1284.8V1265.4H3000.7V1284.8ZM2990.2 1284.8V1246.5H2994.7V1284.8ZM3133.1 1284.8V1265.4H3147.6V1284.8ZM3137.0 1284.8V1246.5H3144.9V1284.8ZM3141.0 1284.8V1227.6H3143.1V1284.8ZM3159.4 1284.8V1265.4H3168.7V1284.8ZM3160.7 1284.8V1246.5H3167.3V1284.8ZM3162.1 1284.8V1227.6H3164.7V1284.8ZM3173.9 1284.8V1265.4H3181.0V1284.8ZM3175.2 1284.8V1246.5H3178.4V1284.8ZM3185.3 1284.8V1265.4H3190.8V1284.8ZM3330.2 1284.8V1265.4H3336.8V1284.8ZM3354.5 1284.8V1265.4H3359.8V1284.8ZM3389.3 1284.8V1265.4H3396.7V1284.8ZM3398.5 1284.8V1265.4H3404.6V1284.8Z"/>
<rect x="458.0" y="1284" width="3096.0" height="1" fill="#000"/>
<text x="308.5" y="1218.2" font-size="36.67" fill="#1a1a1a" text-anchor="middle">4 RF</text>
<rect x="149" y="1282.43" width="10" height="3.8" fill="#333"/>
<rect x="149" y="1238.79" width="10" height="3.8" fill="#333"/>
<rect x="149" y="1195.15" width="10" height="3.8" fill="#333"/>
<rect x="149" y="1151.51" width="10" height="3.8" fill="#333"/>
<path fill="#A50026" d="M1805.0 1463.0V1301.3H1808.2V1463.0ZM1808.2 1463.0V1381.9H1809.8V1463.0ZM1811.1 1463.0V1408.7H1825.9V1463.0ZM1811.9 1463.0V1355.0H1824.5V1463.0ZM1813.2 1463.0V1301.3H1824.0V1463.0ZM1829.8 1463.0V1301.3H1835.6V1463.0ZM2794.1 1463.0V1381.9H2803.0V1463.0ZM2795.1 1463.0V1301.3H2801.7V1463.0ZM2818.1 1463.0V1408.7H2824.7V1463.0ZM2818.3 1463.0V1355.0H2823.6V1463.0ZM2818.9 1463.0V1301.3H2822.8V1463.0ZM3306.3 1463.0V1301.3H3311.8V1463.0ZM3318.9 1463.0V1381.9H3320.2V1463.0ZM3319.7 1463.0V1301.3H3324.7V1463.0Z"/>
<rect x="458.0" y="1462" width="3096.0" height="1" fill="#000"/>
<text x="308.5" y="1396.4" font-size="36.67" fill="#1a1a1a" text-anchor="middle">8 Pre-Adipocyte</text>
<rect x="149" y="1460.63" width="10" height="3.8" fill="#333"/>
<rect x="149" y="1416.99" width="10" height="3.8" fill="#333"/>
<rect x="149" y="1373.35" width="10" height="3.8" fill="#333"/>
<rect x="149" y="1329.71" width="10" height="3.8" fill="#333"/>
<path fill="#8E0152" d="M638.3 1641.2V1612.3H643.3V1641.2ZM649.1 1641.2V1612.3H655.2V1641.2ZM748.8 1641.2V1612.3H764.6V1641.2ZM751.9 1641.2V1583.9H758.5V1641.2ZM754.0 1641.2V1555.5H755.1V1641.2ZM767.2 1641.2V1612.3H776.4V1641.2ZM769.8 1641.2V1583.9H772.5V1641.2ZM810.2 1641.2V1612.3H822.8V1641.2ZM1149.2 1641.2V1612.3H1157.6V1641.2ZM1151.0 1641.2V1583.9H1155.0V1641.2ZM1305.2 1641.2V1612.3H1311.8V1641.2ZM1314.2 1641.2V1612.3H1320.8V1641.2ZM1337.4 1641.2V1612.3H1347.7V1641.2ZM1341.6 1641.2V1583.9H1343.7V1641.2ZM1591.0 1641.2V1612.3H1597.8V1641.2ZM1591.8 1641.2V1583.9H1596.0V1641.2ZM1792.4 1641.2V1612.3H1805.8V1641.2ZM1895.7 1641.2V1612.3H1901.5V1641.2ZM1907.6 1641.2V1612.3H1914.7V1641.2ZM2294.3 1641.2V1612.3H2301.7V1641.2ZM2295.9 1641.2V1583.9H2300.9V1641.2ZM2310.9 1641.2V1612.3H2318.0V1641.2ZM2314.1 1641.2V1583.9H2318.0V1641.2ZM2318.0 1641.2V1612.3H2320.6V1641.2ZM2318.0 1641.2V1583.9H2319.1V1641.2ZM2354.9 1641.2V1612.3H2363.9V1641.2ZM2358.1 1641.2V1583.9H2360.7V1641.2ZM2372.0 1641.2V1612.3H2399.7V1641.2ZM2376.0 1641.2V1583.9H2377.6V1641.2ZM2379.2 1641.2V1583.9H2381.8V1641.2ZM2386.0 1641.2V1583.9H2391.8V1641.2ZM2393.9 1641.2V1583.9H2395.0V1641.2ZM2390.0 1641.2V1555.5H2391.8V1641.2ZM2428.2 1641.2V1612.3H2434.0V1641.2ZM2458.2 1641.2V1612.3H2464.6V1641.2ZM2466.4 1641.2V1612.3H2473.5V1641.2ZM2559.2 1641.2V1612.3H2565.0V1641.2ZM2568.2 1641.2V1612.3H2574.2V1641.2ZM2652.3 1641.2V1612.3H2659.9V1641.2ZM2653.3 1641.2V1583.9H2656.7V1641.2ZM2674.4 1641.2V1612.3H2681.0V1641.2ZM2683.9 1641.2V1612.3H2689.7V1641.2ZM2789.3 1641.2V1612.3H2795.7V1641.2ZM2807.3 1641.2V1612.3H2813.6V1641.2ZM2941.7 1641.2V1612.3H2946.7V1641.2ZM2951.2 1641.2V1612.3H2956.7V1641.2ZM3042.1 1641.2V1612.3H3051.9V1641.2ZM3067.2 1641.2V1612.3H3073.8V1641.2ZM3075.9 1641.2V1612.3H3080.9V1641.2ZM3216.1 1641.2V1612.3H3224.8V1641.2ZM3217.4 1641.2V1583.9H3222.2V1641.2ZM3347.1 1641.2V1612.3H3351.9V1641.2ZM3354.0 1641.2V1612.3H3360.6V1641.2Z"/>
<rect x="458.0" y="1641" width="3096.0" height="1" fill="#000"/>
<text x="308.5" y="1574.6" font-size="36.67" fill="#1a1a1a" text-anchor="middle">7 Fascia</text>
<rect x="149" y="1638.83" width="10" height="3.8" fill="#333"/>
<rect x="149" y="1595.19" width="10" height="3.8" fill="#333"/>
<rect x="149" y="1551.55" width="10" height="3.8" fill="#333"/>
<rect x="149" y="1507.91" width="10" height="3.8" fill="#333"/>
<rect x="158.1" y="45" width="3.8" height="1604.0" fill="#000"/>
<rect x="158.1" y="1706" width="3.8" height="320" fill="#000"/>
<rect x="158.1" y="2084.2" width="3.8" height="161.7" fill="#000"/>
<rect x="458.0" y="2242.1" width="3096.0" height="3.8" fill="#000"/>
<rect x="919.10" y="2245" width="3.8" height="10" fill="#333"/>
<text x="921.00" y="2293" font-size="37.3" fill="#4d4d4d" text-anchor="middle">10580000</text>
<rect x="1533.35" y="2245" width="3.8" height="10" fill="#333"/>
<text x="1535.25" y="2293" font-size="37.3" fill="#4d4d4d" text-anchor="middle">10590000</text>
<rect x="2147.60" y="2245" width="3.8" height="10" fill="#333"/>
<text x="2149.50" y="2293" font-size="37.3" fill="#4d4d4d" text-anchor="middle">10600000</text>
<rect x="2761.85" y="2245" width="3.8" height="10" fill="#333"/>
<text x="2763.75" y="2293" font-size="37.3" fill="#4d4d4d" text-anchor="middle">10610000</text>
<rect x="3376.10" y="2245" width="3.8" height="10" fill="#333"/>
<text x="3378.00" y="2293" font-size="37.3" fill="#4d4d4d" text-anchor="middle">10620000</text>
<text x="2006" y="2345.6" font-size="45.83" fill="#000" text-anchor="middle">chr7 position (bp)</text>
<text transform="translate(80,853.9) rotate(-90)" font-size="45.83" fill="#000" text-anchor="middle">Normalized accessibility</text>
<text transform="translate(130,844.7) rotate(-90)" font-size="45.83" fill="#000" text-anchor="middle">(range 0 - 7.4)</text>
<text transform="translate(105,1866) rotate(-90)" font-size="45.83" fill="#000" text-anchor="middle">Genes</text>
<text transform="translate(105,2164) rotate(-90)" font-size="45.83" fill="#000" text-anchor="middle">Peaks</text>
<rect x="905" y="1961.15" width="2076.0" height="4.3" fill="#00008B"/>
<rect x="906" y="1941" width="106" height="44" fill="#00008B"/>
<rect x="1040.1" y="1941" width="1.8" height="44" fill="#00008B"/>
<rect x="1116.1" y="1941" width="3.8" height="44" fill="#00008B"/>
<rect x="1240.2" y="1941" width="12.8" height="44" fill="#00008B"/>
<rect x="2794.4" y="1941" width="4.2" height="44" fill="#00008B"/>
<rect x="2979" y="1941" width="3.6" height="44" fill="#00008B"/>
<path d="M1039.4 1953.6L1029.9 1963.3L1039.8 1973.7M1100.8 1953.6L1091.3 1963.3L1101.2 1973.7M1162.2 1953.6L1152.7 1963.3L1162.6 1973.7M1223.5 1953.6L1214.0 1963.3L1223.9 1973.7M1284.9 1953.6L1275.4 1963.3L1285.3 1973.7M1346.3 1953.6L1336.8 1963.3L1346.7 1973.7M1407.7 1953.6L1398.2 1963.3L1408.1 1973.7M1469.1 1953.6L1459.6 1963.3L1469.5 1973.7M1530.4 1953.6L1520.9 1963.3L1530.8 1973.7M1591.8 1953.6L1582.3 1963.3L1592.2 1973.7M1653.2 1953.6L1643.7 1963.3L1653.6 1973.7M1714.6 1953.6L1705.1 1963.3L1715.0 1973.7M1776.0 1953.6L1766.5 1963.3L1776.4 1973.7M1837.3 1953.6L1827.8 1963.3L1837.7 1973.7M1898.7 1953.6L1889.2 1963.3L1899.1 1973.7M1960.1 1953.6L1950.6 1963.3L1960.5 1973.7M2021.5 1953.6L2012.0 1963.3L2021.9 1973.7M2082.9 1953.6L2073.4 1963.3L2083.3 1973.7M2144.2 1953.6L2134.7 1963.3L2144.6 1973.7M2205.6 1953.6L2196.1 1963.3L2206.0 1973.7M2267.0 1953.6L2257.5 1963.3L2267.4 1973.7M2328.4 1953.6L2318.9 1963.3L2328.8 1973.7M2389.8 1953.6L2380.3 1963.3L2390.2 1973.7M2451.1 1953.6L2441.6 1963.3L2451.5 1973.7M2512.5 1953.6L2503.0 1963.3L2512.9 1973.7M2573.9 1953.6L2564.4 1963.3L2574.3 1973.7M2635.3 1953.6L2625.8 1963.3L2635.7 1973.7M2696.7 1953.6L2687.2 1963.3L2697.1 1973.7M2758.0 1953.6L2748.5 1963.3L2758.4 1973.7M2819.4 1953.6L2809.9 1963.3L2819.8 1973.7M2880.8 1953.6L2871.3 1963.3L2881.2 1973.7M2942.2 1953.6L2932.7 1963.3L2942.6 1973.7" fill="none" stroke="#00008B" stroke-width="4.2" stroke-linecap="butt" stroke-linejoin="round"/>
<text x="1944.4" y="1881" font-size="36.2" fill="#000" text-anchor="middle">Vmn1r69</text>
</svg></body></html>
